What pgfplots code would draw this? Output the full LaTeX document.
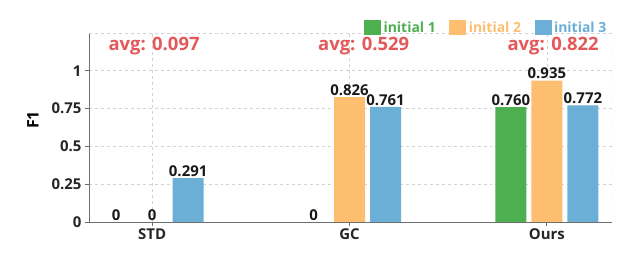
\documentclass[border=0pt]{standalone}
\usepackage{fontspec}
\setmainfont{Open Sans}
\usepackage{pgfplots}
\usepackage{pgfplotstable}
\pgfplotsset{compat=1.18}
\definecolor{cg}{RGB}{77,175,80}
\definecolor{co}{RGB}{253,191,111}
\definecolor{cb}{RGB}{107,174,214}
\definecolor{cr}{RGB}{229,88,90}
\definecolor{gridc}{RGB}{210,210,210}
\definecolor{axc}{RGB}{110,110,110}
\pgfplotstableread{
x y lab
0 0 0
1 0 0
2 0.760 0.760
}\tA
\pgfplotstableread{
x y lab
0 0 0
1 0.826 0.826
2 0.935 0.935
}\tB
\pgfplotstableread{
x y lab
0 0.291 0.291
1 0.761 0.761
2 0.772 0.772
}\tC
\begin{document}
\begin{tikzpicture}
\useasboundingbox (0,0) rectangle (644bp,254bp);
\begin{axis}[
  at={(89bp,32bp)}, anchor=south west,
  scale only axis, width=523bp, height=189bp,
  xmin=-0.32, xmax=2.33, ymin=0, ymax=1.25,
  xtick={0,1,2}, xticklabels={STD,GC,Ours},
  ytick={0,0.25,0.5,0.75,1},
  axis x line*=bottom, axis y line*=left,
  axis line style={axc, line width=0.8pt},
  x axis line style={-}, y axis line style={-},
  tick style={axc, line width=0.8pt},
  tick align=outside, major tick length=4bp,
  grid=major, major grid style={gridc, dashed, line width=0.6pt},
  /pgf/number format/assume math mode=true,
  ticklabel style={font=\fontsize{15}{17}\selectfont\bfseries, text=black!85},
  xticklabel style={yshift=1bp},
  ylabel={F1},
  ylabel style={at={(axis description cs:-0.107,0.54)}, anchor=center, font=\fontsize{16}{18}\selectfont\bfseries},
  ybar, bar width=31bp,
  nodes near coords={\pgfplotspointmeta},
  point meta=explicit symbolic,
  every node near coord/.append style={font=\fontsize{15}{17}\selectfont\bfseries, text=black!90, yshift=-2bp},
  legend columns=3,
  legend style={at={(axis description cs:1.0,0.97)}, anchor=south east, draw=none, fill=none,
    font=\fontsize{14}{16}\selectfont\bfseries, column sep=0pt,
    nodes={inner xsep=2.5bp}},
  legend image code/.code={\path (-11bp,0bp); \fill[#1] (0bp,-7bp) rectangle (17bp,8bp);},
]
\addplot[fill=cg, draw=none, bar shift=-36bp] table[x=x,y=y,meta=lab]{\tA};
\addplot[fill=co, draw=none, bar shift=0bp] table[x=x,y=y,meta=lab]{\tB};
\addplot[fill=cb, draw=none, bar shift=36bp] table[x=x,y=y,meta=lab]{\tC};
\legend{\textcolor{cg}{initial 1},\textcolor{co}{initial 2},\textcolor{cb}{initial 3}}
\draw[gridc, dashed, line width=0.6pt] (rel axis cs:0,1) -- (rel axis cs:1,1) -- (rel axis cs:1,0);
\node[anchor=west, text=cr, font=\fontsize{18.5}{21}\selectfont\bfseries, inner sep=0pt] at (axis cs:-0.222,1.166) {avg: 0.097};
\node[anchor=west, text=cr, font=\fontsize{18.5}{21}\selectfont\bfseries, inner sep=0pt] at (axis cs:0.84,1.166) {avg: 0.529};
\node[anchor=west, text=cr, font=\fontsize{18.5}{21}\selectfont\bfseries, inner sep=0pt] at (axis cs:1.80,1.166) {avg: 0.822};
\end{axis}
\end{tikzpicture}
\end{document}
